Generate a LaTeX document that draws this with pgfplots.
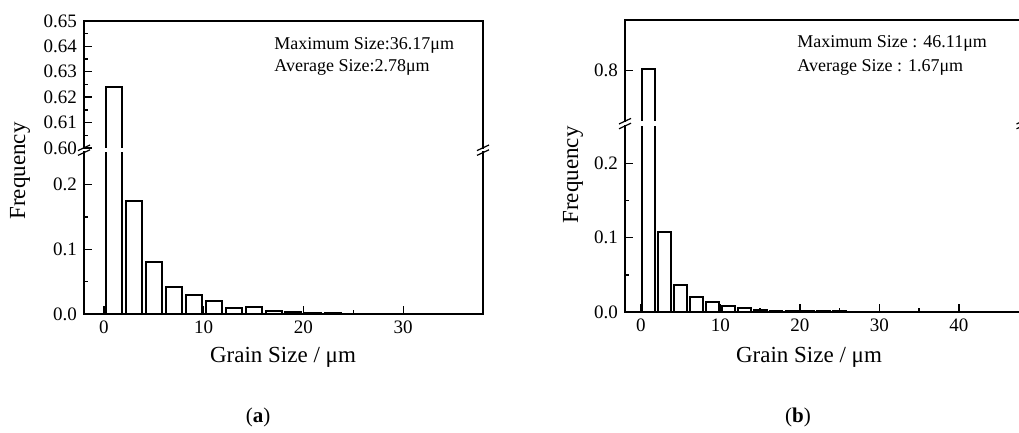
\documentclass[border=0pt]{standalone}
\usepackage{pgfplots}
\pgfplotsset{compat=1.18}
\usepackage{fontspec}
\setmainfont{Liberation Serif}

% histogram bins (centres, width 2 um)
\pgfplotstableread{
x y
1 0.624
3 0.175
5 0.080
7 0.041
9 0.029
11 0.0206
13 0.0093
15 0.0103
17 0.005
19 0.003
21 0.002
23 0.001
25 0.0005
27 0.0004
29 0.0003
31 0.0006
33 0.0002
35 0.0002
}\dataA
\pgfplotstableread{
x y
1 0.802
3 0.108
5 0.0363
7 0.0197
9 0.013
11 0.0076
13 0.0054
15 0.003
17 0.002
19 0.0015
21 0.0012
23 0.001
25 0.001
27 0.0004
29 0.0003
31 0.0005
33 0.0002
35 0.0002
37 0.0002
39 0.0002
41 0.0004
43 0.0002
45 0.0002
}\dataB

\pgfplotsset{
  hist/.style={
    scale only axis, anchor=south west,
    axis line style={draw=none},
    every tick/.style={black, line width=0.7pt},
    major tick length=4pt, minor tick length=2pt,
    tick align=inside,
    ytick pos=left, xtick pos=bottom,
    /pgf/number format/assume math mode=true,
    tick label style={font=\fontsize{9.5}{11}\selectfont},
    xmin=-2,
  },
  bars/.style={ybar, bar width=1.6, fill=white, draw=black, line width=1pt},
  % outline of the first bin above the break (open at the bottom)
  topbar/.style={black, line width=1pt, mark=none, line join=miter},
}

\begin{document}
\begin{tikzpicture}
\useasboundingbox (0,0) rectangle (509.5pt,216.5pt);

%% ---------- (a) ----------
\begin{axis}[hist, at={(42pt,59.5pt)}, width=199.5pt, height=80.875pt,
  xmax=38, ymin=0, ymax=0.25,
  xtick={0,10,20,30}, minor x tick num=1,
  ytick={0,0.1,0.2}, minor y tick num=1,
  yticklabel style={/pgf/number format/.cd, fixed, fixed zerofill, precision=1}]
\addplot[bars] table[x=x,y=y] {\dataA};
\end{axis}
\begin{axis}[hist, at={(42pt,142.5pt)}, width=199.5pt, height=63.5pt,
  xmax=38, ymin=0.60, ymax=0.65, xtick=\empty,
  ytick={0.60,0.61,0.62,0.63,0.64,0.65}, minor y tick num=1,
  yticklabel style={/pgf/number format/.cd, fixed, fixed zerofill, precision=2}]
\addplot[topbar] coordinates {(0.2,0.5) (0.2,0.624) (1.8,0.624) (1.8,0.5)};
\end{axis}

%% ---------- (b) ----------
\begin{axis}[hist, at={(312.5pt,60.5pt)}, width=198.75pt, height=92.875pt,
  xmax=48, ymin=0, ymax=0.25,
  xtick={0,10,20,30,40}, minor x tick num=1,
  ytick={0,0.1,0.2}, minor y tick num=1,
  yticklabel style={/pgf/number format/.cd, fixed, fixed zerofill, precision=1}]
\addplot[bars] table[x=x,y=y] {\dataB};
\end{axis}
\begin{axis}[hist, at={(312.5pt,156pt)}, width=198.75pt, height=50.5pt,
  xmax=48, ymin=0.7323, ymax=0.8682, xtick=\empty,
  ytick={0.8},
  yticklabel style={/pgf/number format/.cd, fixed, precision=1}]
\addplot[topbar] coordinates {(0.2,0.6) (0.2,0.802) (1.8,0.802) (1.8,0.6)};
\end{axis}

% frames, open at the axis breaks
\begin{scope}[line width=1pt, line cap=rect]
\draw (42pt,140.4pt) -- (42pt,59.5pt) -- (241.5pt,59.5pt) -- (241.5pt,140.4pt);
\draw (42pt,142.5pt) -- (42pt,206pt) -- (241.5pt,206pt) -- (241.5pt,142.5pt);
\draw (312.5pt,153.4pt) -- (312.5pt,60.5pt) -- (511.25pt,60.5pt) -- (511.25pt,153.4pt);
\draw (312.5pt,156pt) -- (312.5pt,206.5pt) -- (511.25pt,206.5pt) -- (511.25pt,156pt);
\end{scope}

% axis breaks
\foreach \bx/\by in {42/141.4, 241.5/141.4, 312.5/154.7, 511.25/154.7}{
  \draw[line width=0.6pt] (\bx pt-3pt,\by pt-2.6pt) -- (\bx pt+3pt,\by pt+0.2pt);
  \draw[line width=0.6pt] (\bx pt-3pt,\by pt-0.2pt) -- (\bx pt+3pt,\by pt+2.6pt);
}

% annotations
\begin{scope}[every node/.style={font=\fontsize{9}{10.8}\selectfont, inner sep=0pt}]
\node[anchor=west] at (137pt,194pt) {Maximum Size:36.17μm};
\node[anchor=west] at (137pt,183pt) {Average Size:2.78μm};
\node[anchor=west] at (398.5pt,195pt) {Maximum Size : 46.11μm};
\node[anchor=west] at (398.5pt,183pt) {Average Size : 1.67μm};
\end{scope}

% axis labels
\begin{scope}[every node/.style={font=\fontsize{11.5}{13}\selectfont, inner sep=0pt}]
\node[rotate=90] at (10pt,131pt) {Frequency};
\node[rotate=90] at (286.5pt,129pt) {Frequency};
\node at (141.5pt,38pt) {Grain Size / μm};
\node at (404.5pt,38pt) {Grain Size / μm};
\end{scope}

% captions
\begin{scope}[every node/.style={font=\fontsize{10.5}{12}\selectfont, inner sep=0pt}]
\node at (129pt,8pt) {(\textbf{a})};
\node at (399pt,8pt) {(\textbf{b})};
\end{scope}
\end{tikzpicture}
\end{document}
